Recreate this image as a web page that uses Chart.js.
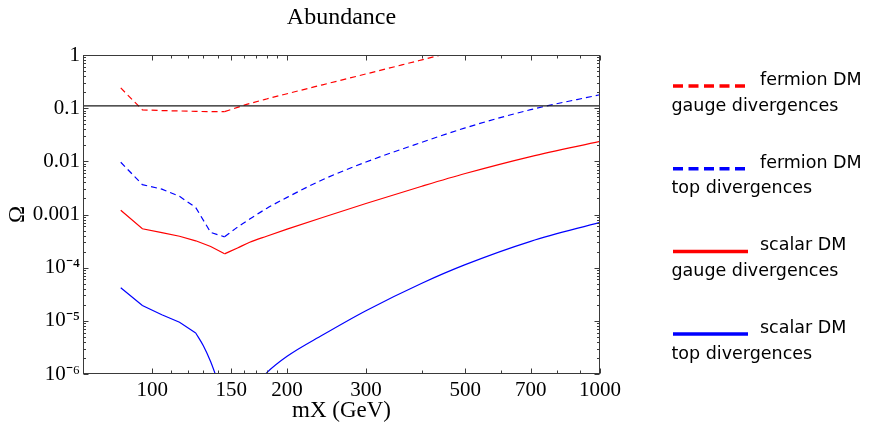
<!DOCTYPE html>
<html><head><meta charset="utf-8">
<script src="https://cdn.jsdelivr.net/npm/chart.js@4.4.1/dist/chart.umd.min.js"></script>
<style>html,body{margin:0;padding:0;background:#fff}#wrap{width:876px;height:426px;position:relative}</style>
</head><body><div id="wrap"><canvas id="c" width="876" height="426"></canvas></div>
<script>
// ---- data (mX in GeV, Omega) ----
const massFermionGauge  = [85, 95, 105, 115, 125, 135, 145, 155, 165, 180, 200, 240, 300, 400, 500];
const omegaFermionGauge = [0.24, 0.093, 0.090, 0.0887, 0.087, 0.086, 0.086, 0.1035, 0.122, 0.149, 0.187, 0.275, 0.44, 0.81, 1.30];

const massFermionTop  = [85, 95, 105, 115, 125, 135, 145, 155, 165, 180, 200, 240, 300, 400, 500, 700, 1000];
const omegaFermionTop = [0.0096, 0.00365, 0.0030, 0.0022, 0.00135, 0.00046, 0.00038, 0.00058, 0.00082, 0.0013, 0.0021, 0.0045, 0.0097, 0.0228, 0.0426, 0.0937, 0.179];

const massScalarGauge  = [85, 95, 105, 115, 125, 135, 145, 155, 165, 180, 200, 240, 300, 400, 500, 700, 1000];
const omegaScalarGauge = [0.0012, 0.00054, 0.000455, 0.00039, 0.00032, 0.00025, 0.000182, 0.000235, 0.0003, 0.00039, 0.00053, 0.00088, 0.00161, 0.0034, 0.0059, 0.0123, 0.0238];

const massScalarTop  = [85, 95, 105, 115, 125, 130, 135, 140, 150, 160, 170, 180, 200, 240, 300, 400, 500, 700, 1000];
const omegaScalarTop = [4.2e-5, 1.94e-5, 1.3e-5, 9.4e-6, 5.9e-6, 3.4e-6, 1.7e-6, 7.5e-7, 2e-7, 3e-7, 6e-7, 1.05e-6, 2.15e-6, 5.4e-6, 1.55e-5, 5.1e-5, 1.14e-4, 3.13e-4, 7.13e-4];

// mass above which each curve is drawn smooth (below: straight segments)
const smoothFromMass = [145, 145, 145, 125];

const relicMass  = [70, 1000];
const relicOmega = [0.11, 0.11];

const xMajorTicks = [100, 150, 200, 300, 500, 700, 1000];
const xMinorTicks = [110, 120, 130, 140, 160, 170, 180, 190, 400, 600, 800, 900];
const yMajorTicks = [1e-6, 1e-5, 1e-4, 1e-3, 1e-2, 1e-1, 1];
const yTickLabels = ['10\u207B\u2076', '10\u207B\u2075', '10\u207B\u2074', '0.001', '0.01', '0.1', '1'];

const chartTitle = 'Abundance';
const legendTitles    = ['fermion DM', 'fermion DM', 'scalar DM', 'scalar DM'];
const legendSubtitles = ['gauge divergences', 'top divergences', 'gauge divergences', 'top divergences'];

// ---- helpers ----
const serif = "'Liberation Serif', 'Times New Roman', serif";
const sans = "'DejaVu Sans', sans-serif";

const seriesDefs = [
  {mass: massFermionGauge, omega: omegaFermionGauge, color: '#ff0000', dashed: true},
  {mass: massFermionTop,   omega: omegaFermionTop,   color: '#0000ff', dashed: true},
  {mass: massScalarGauge,  omega: omegaScalarGauge,  color: '#ff0000', dashed: false},
  {mass: massScalarTop,    omega: omegaScalarTop,    color: '#0000ff', dashed: false}
];

const framePlugin = {
  id: 'frame',
  afterDraw(chart) {
    const {ctx, chartArea: a, scales: {x, y}} = chart;
    const L = Math.round(a.left) + 0.5, R = Math.round(a.right) - 0.5;
    const T = Math.round(a.top) + 0.5, B = Math.round(a.bottom) - 0.5;
    ctx.save();
    ctx.strokeStyle = '#3a3a3a';
    ctx.lineWidth = 1;
    ctx.strokeRect(L, T, R - L, B - T);
    ctx.beginPath();
    const xt = (v, len) => {
      const p = Math.round(x.getPixelForValue(v)) + 0.5;
      ctx.moveTo(p, B); ctx.lineTo(p, B - len);
      ctx.moveTo(p, T); ctx.lineTo(p, T + len);
    };
    const yt = (v, len) => {
      const p = Math.round(y.getPixelForValue(v)) + 0.5;
      ctx.moveTo(L, p); ctx.lineTo(L + len, p);
      ctx.moveTo(R, p); ctx.lineTo(R - len, p);
    };
    xMajorTicks.forEach(v => xt(v, 5));
    xMinorTicks.forEach(v => xt(v, 3));
    yMajorTicks.forEach(v => yt(v, 5));
    for (let d = 0; d < yMajorTicks.length - 1; d++) {
      for (let k = 2; k <= 9; k++) yt(yMajorTicks[d] * k, 2.5);
    }
    ctx.stroke();
    // title
    ctx.fillStyle = '#000';
    ctx.font = '24px ' + serif;
    ctx.textAlign = 'center';
    ctx.textBaseline = 'middle';
    ctx.fillText(chartTitle, (a.left + a.right) / 2, 18);
    ctx.restore();
  }
};

const legendPlugin = {
  id: 'sideLegend',
  afterDraw(chart) {
    const {ctx} = chart;
    ctx.save();
    seriesDefs.forEach((s, i) => {
      const yLine = 86 + i * 82.7;
      ctx.beginPath();
      ctx.strokeStyle = s.color;
      ctx.lineWidth = 3.5;
      ctx.setLineDash(s.dashed ? [10, 5.5] : []);
      ctx.moveTo(673, yLine);
      ctx.lineTo(748, yLine);
      ctx.stroke();
      ctx.setLineDash([]);
      ctx.fillStyle = '#000';
      ctx.font = '17.5px ' + sans;
      ctx.textBaseline = 'middle';
      ctx.textAlign = 'left';
      ctx.fillText(legendTitles[i], 760, yLine - 5.5);
      ctx.fillText(legendSubtitles[i], 671.5, yLine + 20);
    });
    ctx.restore();
  }
};

const datasets = [
  {label: 'relic', data: relicMass.map((m, i) => ({x: m, y: relicOmega[i]})), borderColor: '#1a1a1a', borderWidth: 1.2, pointRadius: 0, fill: false}
];
seriesDefs.forEach((s, i) => {
  const split = smoothFromMass[i];
  const all = s.mass.map((m, k) => ({x: m, y: s.omega[k]}));
  const base = {borderColor: s.color, backgroundColor: s.color, borderWidth: 1.2,
    borderDash: s.dashed ? [6, 4] : [], pointRadius: 0, fill: false};
  datasets.push(Object.assign({}, base, {label: legendTitles[i] + ' ' + legendSubtitles[i],
    data: all.filter(p => p.x <= split), tension: 0}));
  datasets.push(Object.assign({}, base, {label: legendTitles[i] + ' ' + legendSubtitles[i] + ' (high mX)',
    data: all.filter(p => p.x >= split), cubicInterpolationMode: 'monotone'}));
});

new Chart(document.getElementById('c'), {
  type: 'line',
  data: {datasets},
  options: {
    responsive: false,
    animation: false,
    layout: {padding: {left: 0, right: 276, top: 55, bottom: 0}},
    plugins: {
      legend: {display: false},
      tooltip: {enabled: false},
      title: {display: false}
    },
    scales: {
      x: {
        type: 'logarithmic', min: 70, max: 1000,
        afterBuildTicks: s => { s.ticks = xMajorTicks.map(v => ({value: v})); },
        afterFit: s => { s.height = 52; },
        ticks: {
          callback: v => String(v), color: '#000', maxRotation: 0, minRotation: 0,
          autoSkip: false, padding: 4, font: {family: serif, size: 21}
        },
        grid: {display: false, drawTicks: false},
        border: {display: false},
        title: {display: true, text: 'mX (GeV)', color: '#000', font: {family: serif, size: 23, lineHeight: 1.0}, padding: {top: 1, bottom: 4}}
      },
      y: {
        type: 'logarithmic', min: 1e-6, max: 1,
        afterBuildTicks: s => { s.ticks = yMajorTicks.map(v => ({value: v})); },
        afterFit: s => { s.width = 83; },
        ticks: {
          callback: v => yTickLabels[yMajorTicks.indexOf(v)], color: '#000',
          autoSkip: false, padding: 3, font: {family: serif, size: 21}
        },
        grid: {display: false, drawTicks: false},
        border: {display: false},
        title: {display: true, text: '\u03A9', color: '#000', font: {family: serif, size: 23}, padding: {top: 4, bottom: 4}}
      }
    }
  },
  plugins: [framePlugin, legendPlugin]
});
</script>
</body></html>
